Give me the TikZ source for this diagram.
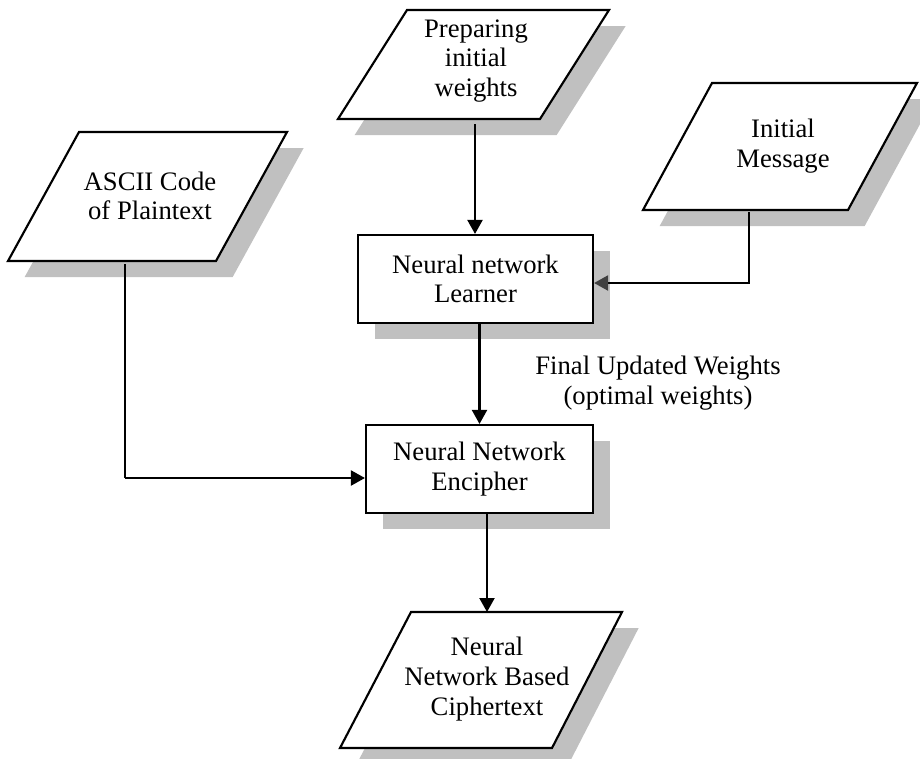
\documentclass[tikz,border=0pt]{standalone}
\usepackage{fontspec}
\setmainfont{Liberation Serif}
\usetikzlibrary{arrows.meta,calc,shadows}
\definecolor{shadowgray}{HTML}{C0C0C0}
\definecolor{tipgray}{HTML}{404040}
\begin{document}
\begin{tikzpicture}[x=0.75pt,y=-0.75pt,
  boxshadow/.style={drop shadow={opacity=1, fill=shadowgray, shadow xshift=12.5pt, shadow yshift=-12pt}},
  iobox/.style={draw=black, line width=1.6pt, fill=white, line join=miter, boxshadow},
  procbox/.style={draw=black, line width=1.6pt, fill=white, boxshadow,
    minimum height=66pt, inner sep=0pt, align=center, font=\fontsize{20}{22.2}\selectfont},
  txt/.style={align=center, inner sep=0pt, font=\fontsize{20}{22.2}\selectfont},
  flow/.style={line width=1.6pt, -{Triangle[width=11.25pt,length=10.5pt]}},
]
\useasboundingbox (0,0) rectangle (920,758);

% input / output parallelograms
\path[iobox] (407,10) -- (609,10) -- (540,119) -- (338,119) -- cycle;
\node[txt] (prep) at (476,61) {Preparing\\initial\\weights};

\path[iobox] (712,83) -- (917,83) -- (848,210) -- (643,210) -- cycle;
\node[txt] (init) at (783,146) {Initial\\Message};

\path[iobox] (79,132) -- (287,132) -- (216,261) -- (8,261) -- cycle;
\node[txt] (ascii) at (150,196) {ASCII Code\\of Plaintext};

\path[iobox] (411,612) -- (622,612) -- (552,748) -- (340,748) -- cycle;
\node[txt] (cipher) at (487,679) {Neural\\Network Based\\Ciphertext};

% processing boxes
\node[procbox, minimum width=176.25pt] (learner) at (475.5,279) {Neural network\\Learner};
\node[procbox, minimum width=170.25pt] (encipher) at (479.5,469) {Neural Network\\Encipher};

\node[txt] (finalw) at (658,383) {Final Updated Weights\\(optimal weights)};

% connector end points on the parallelograms
\coordinate (prep-out) at (475,124);
\coordinate (init-out) at (749,212);
\coordinate (ascii-out) at (125,264);
\coordinate (ascii-turn) at (125,478);
\coordinate (cipher-in) at (487,612);

% connectors
\draw[flow] (prep-out) -- (prep-out |- learner.north);
\draw[line width=1.6pt, -{Triangle[width=11.25pt,length=10.5pt,color=tipgray]}]
  (init-out) |- ($(learner.east)+(0,4)$);
\draw[flow] (learner.south -| encipher.north) -- (encipher.north);
\draw[line width=1.1pt] (ascii-out) -- (ascii-turn);
\draw[flow] (ascii-turn) -- (ascii-turn -| encipher.west);
\draw[flow] (encipher.south -| cipher-in) -- (cipher-in);
\end{tikzpicture}
\end{document}
